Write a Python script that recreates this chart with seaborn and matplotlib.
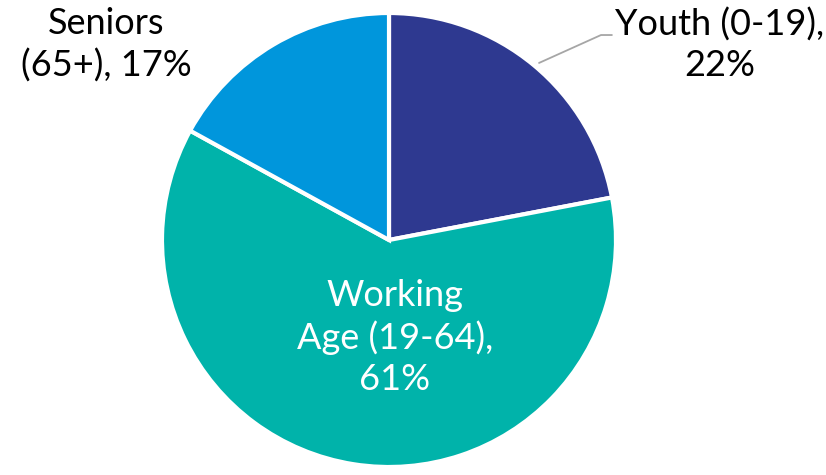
import matplotlib
matplotlib.use("Agg")
import matplotlib.pyplot as plt
import seaborn as sns

groups = ["Youth (0-19)", "Working\nAge (19-64)", "Seniors\n(65+)"]
shares = [22, 61, 17]
colors = ["#2E3990", "#00B3AA", "#0096DC"]

sns.set_theme(style="white")
plt.rcParams['font.family'] = ['Lato', 'DejaVu Sans']

fig = plt.figure(figsize=(8.26, 4.75), dpi=100)
ax = fig.add_axes([162 / 826, 8 / 475, 454 / 826, 454 / 475])

ax.pie(shares, colors=colors, startangle=90, counterclock=False, radius=1,
       wedgeprops=dict(edgecolor="white", linewidth=3))
ax.set_xlim(-1, 1)
ax.set_ylim(-1, 1)
ax.set_aspect("equal")
ax.axis("off")

fs = 26
# youth label outside with leader line
ax.plot([0.661, 0.934, 0.982], [0.780, 0.903, 0.903], color="#A6A6A6", lw=1.3, clip_on=False)
ax.text(1.455, 0.86, f"{groups[0]},\n{shares[0]}%", ha="center", va="center",
        fontsize=fs, color="black", linespacing=1.3)
ax.text(-1.245, 0.86, f"{groups[2]}, {shares[2]}%", ha="center", va="center",
        fontsize=fs, color="black", linespacing=1.3)
ax.text(0.025, -0.43, f"{groups[1]},\n{shares[1]}%", ha="center", va="center",
        fontsize=fs, color="white", linespacing=1.3)

fig.savefig("out.png", dpi=100)
